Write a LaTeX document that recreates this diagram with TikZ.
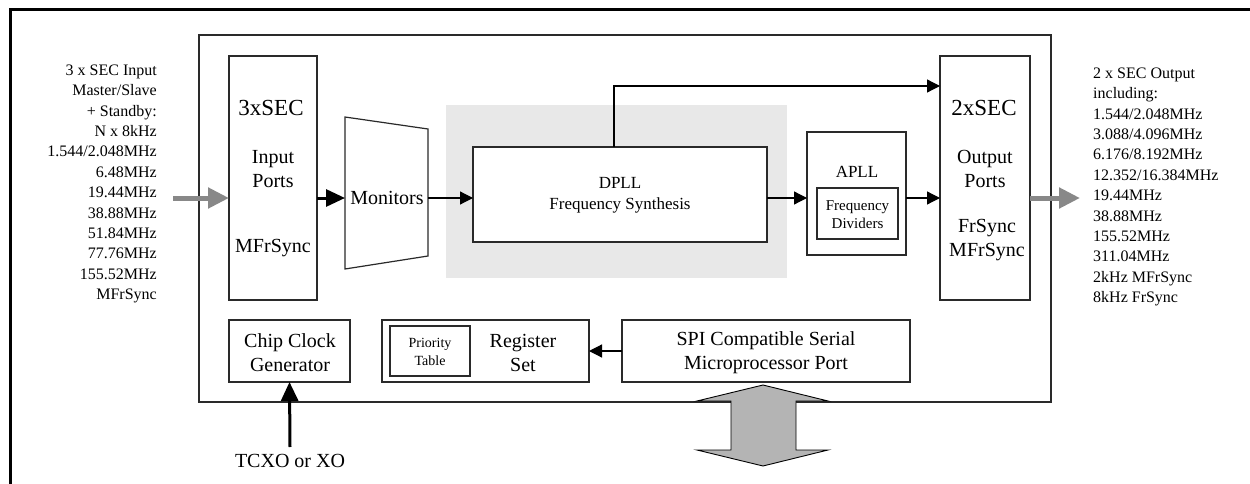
\documentclass[tikz,border=0pt]{standalone}
\usepackage{fontspec}
\setmainfont{Liberation Serif}
\usetikzlibrary{arrows.meta}
\definecolor{bgshade}{HTML}{E8E8E8}
\definecolor{greyarr}{HTML}{888888}
\definecolor{busfill}{HTML}{B4B4B4}
\definecolor{edge}{HTML}{2A2A2A}
\begin{document}
\begin{tikzpicture}[x=1pt,y=-1pt,
  box/.style={draw=edge, line width=1.2pt, inner sep=0pt, outer sep=0pt, fill=white},
  big/.style={inner sep=0pt, align=center, font=\fontsize{20}{24}\selectfont},
  mid/.style={inner sep=0pt, align=center, font=\fontsize{17}{21}\selectfont},
  small/.style={inner sep=0pt, align=center, font=\fontsize{15}{18}\selectfont},
  tiny/.style={inner sep=0pt, align=center, font=\fontsize{14}{18}\selectfont},
  side/.style={inner sep=0pt, font=\fontsize{16}{20.4}\selectfont},
  thinarrow/.style={draw=black, line width=1.2pt, -{Triangle[length=13pt,width=13pt]}},
  thickarrow/.style={draw=black, line width=3pt, -{Triangle[length=19pt,width=17pt]}},
  greyarrow/.style={draw=greyarr, line width=5pt, -{Triangle[length=21pt,width=20pt]}}
]
\useasboundingbox (0,0) rectangle (1250,484);
% outer frame (top and left edges)
\draw[line width=3pt, black] (10,484) -- (10,10) -- (1250,10);

% main chip box
\node[box, minimum width=852pt, minimum height=367pt] (main) at (625,218.5) {};

% grey DPLL area
\fill[bgshade] (446,105) rectangle (787,278);

% blocks
\node[box, minimum width=88pt, minimum height=244pt] (inp) at (273,178) {};
\node[big, font=\fontsize{23}{26}\selectfont] at (271,108) {3xSEC};
\node[big] at (273,169) {Input\\Ports};
\node[big] at (273,248) {MFrSync};

\node[box, minimum width=90pt, minimum height=244pt] (outp) at (985,178) {};
\node[big, font=\fontsize{23}{26}\selectfont] at (984,108) {2xSEC};
\node[big] at (985,169) {Output\\Ports};
\node[big] at (987,240.5) {FrSync\\MFrSync};

\draw[box] (345,117) -- (428,129) -- (428,256) -- (345,269) -- cycle;
\node[big] (mon) at (387,198) {Monitors};
\coordinate (monin) at (345,198);
\coordinate (monout) at (428,198);

\node[box, minimum width=294pt, minimum height=95pt] (dpll) at (620,194.5) {};
\node[mid] at (620,195.5) {DPLL\\Frequency Synthesis};

\node[box, minimum width=99pt, minimum height=123pt] (apll) at (856.5,193.5) {};
\node[mid] at (857,172) {APLL};
\node[box, minimum width=81pt, minimum height=51pt] (fdiv) at (857.5,213.5) {};
\node[small] at (857.5,215) {Frequency\\Dividers};

\node[box, minimum width=121pt, minimum height=62pt] (chip) at (289.5,351) {};
\node[big] at (290,353) {Chip Clock\\Generator};

\node[box, minimum width=207pt, minimum height=62pt] (reg) at (485.5,351) {};
\node[box, minimum width=80pt, minimum height=50pt] (prio) at (430,351) {};
\node[tiny] at (430,352) {Priority\\Table};
\node[big] at (523,353) {Register\\Set};

\node[box, minimum width=288pt, minimum height=62pt] (spi) at (766,351) {};
\node[big] at (766,353) {SPI Compatible Serial\\Microprocessor Port};

% side texts
\node[side, align=right, anchor=east] (intext) at (157,184) {3 x SEC Input\\Master/Slave\\+ Standby:\\N x 8kHz\\1.544/2.048MHz\\6.48MHz\\19.44MHz\\38.88MHz\\51.84MHz\\77.76MHz\\155.52MHz\\MFrSync};
\node[side, align=left, anchor=west] (outtext) at (1093,187) {2 x SEC Output\\including:\\1.544/2.048MHz\\3.088/4.096MHz\\6.176/8.192MHz\\12.352/16.384MHz\\19.44MHz\\38.88MHz\\155.52MHz\\311.04MHz\\2kHz MFrSync\\8kHz FrSync};
\node[big] (tcxo) at (290,461) {TCXO or XO};

% connectors
\coordinate (inStart) at (173,198);
\coordinate (outEnd) at (1080,198);
\coordinate (fbend) at (940,86);
\coordinate (xo) at (290,447);
\draw[greyarrow] (inStart) -- (inp.west |- inStart);
\draw[greyarrow] (outp.east |- outEnd) -- (outEnd);
\draw[thickarrow] (inp.east |- monin) -- (monin);
\draw[thinarrow] (monout) -- (dpll.west |- monout);
\draw[thinarrow] (dpll.east |- monout) -- (apll.west |- monout);
\draw[thinarrow] (apll.east |- monout) -- (outp.west |- monout);
\draw[thinarrow] ([xshift=-6pt]dpll.north) |- (fbend);
\draw[thinarrow] (spi.west) -- (reg.east);
\draw[thickarrow] (xo) -- (chip.south);

% microprocessor bus double arrow
\filldraw[fill=busfill, draw=black, line width=0.9pt]
  (763,385) -- (828,401) -- (796,401) -- (796,450) -- (828,450) -- (763,466)
  -- (697,450) -- (731,450) -- (731,401) -- (697,401) -- cycle;
\end{tikzpicture}
\end{document}
